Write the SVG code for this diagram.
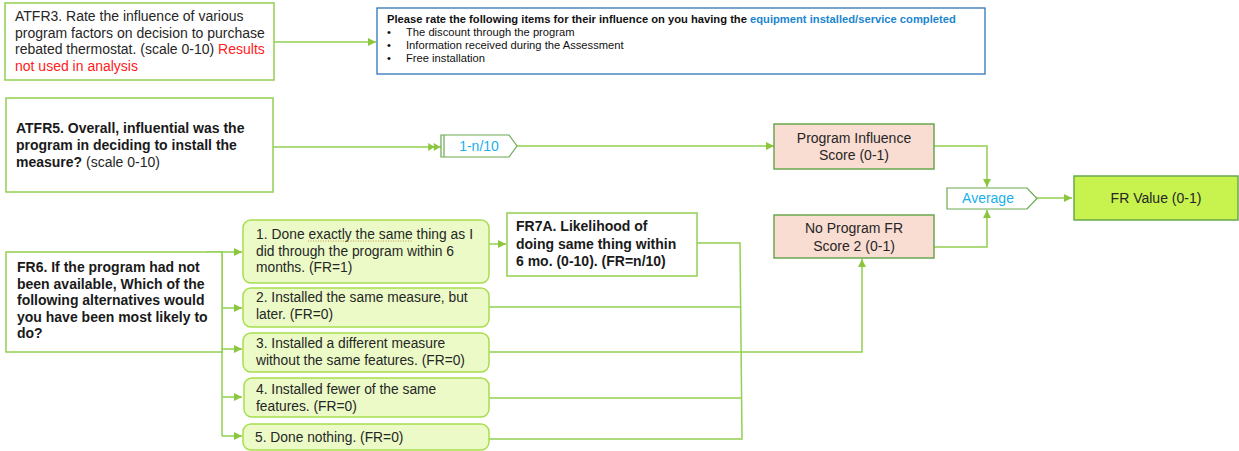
<svg xmlns="http://www.w3.org/2000/svg" width="1239" height="451" viewBox="0 0 1239 451">
<defs>
<style>
text{font-family:"Liberation Sans",Arial,sans-serif;font-size:14px;fill:#262626}
.b{font-weight:bold;fill:#1a1a1a}
.red{fill:#ff2020}
.cy{fill:#1ab0ea}
.sm{font-size:11.2px;fill:#111}
.o{font-size:13.8px}
.ln{fill:none;stroke:#92d050;stroke-width:1.5}
.gbox{fill:#fff;stroke:#92d050;stroke-width:1.5}
.opt{fill:#ebfac6;stroke:#a6de4e;stroke-width:1.5}
.pink{fill:#f9dcd2;stroke:#6aa84f;stroke-width:1.5}
.pent{fill:#fff;stroke:#6aa84f;stroke-width:1.2}
</style>
<marker id="ah" viewBox="0 0 10 10" refX="10" refY="5" markerWidth="9" markerHeight="8" markerUnits="userSpaceOnUse" orient="auto">
<path d="M0,0 L10,5 L0,10 z" fill="#8cc63f"/>
</marker>
<marker id="ah2" viewBox="0 0 16 10" refX="16" refY="5" markerWidth="14" markerHeight="8" markerUnits="userSpaceOnUse" orient="auto">
<path d="M0,0 L8,5 L0,10 z M7,0 L15,5 L7,10 z" fill="#8cc63f"/>
</marker>
</defs>

<g id="connectors">
<path class="ln" d="M274,42 H376" marker-end="url(#ah)"/>
<path class="ln" d="M273,147 H441" marker-end="url(#ah2)"/>
<path class="ln" d="M517,146 H774" marker-end="url(#ah)"/>
<path class="ln" d="M934,146 H987 V187" marker-end="url(#ah)"/>
<path class="ln" d="M934,247 H987 V210" marker-end="url(#ah)"/>
<path class="ln" d="M1037,198 H1072" marker-end="url(#ah)"/>
<path class="ln" d="M222,252 V436"/>
<path class="ln" d="M206,252 H242" marker-end="url(#ah)"/>
<path class="ln" d="M222,308 H242" marker-end="url(#ah)"/>
<path class="ln" d="M206,349 H242" marker-end="url(#ah)"/>
<path class="ln" d="M222,397 H242" marker-end="url(#ah)"/>
<path class="ln" d="M222,436 H242" marker-end="url(#ah)"/>
<path class="ln" d="M489,244 H506" marker-end="url(#ah)"/>
<path class="ln" d="M696,243 H740 L742,439 H489"/>
<path class="ln" d="M489,307 H741"/>
<path class="ln" d="M489,398 H742"/>
<path class="ln" d="M489,352 H862 V259" marker-end="url(#ah)"/>
</g>

<g id="atfr3">
<rect class="gbox" x="5" y="3" width="269" height="77"/>
<text x="15" y="21">ATFR3. Rate the influence of various</text>
<text x="15" y="37.5">program factors on decision to purchase</text>
<text x="15" y="54">rebated thermostat. (scale 0-10) <tspan class="red">Results</tspan></text>
<text x="15" y="70.5" class="red">not used in analysis</text>
</g>

<g id="question-box">
<rect x="377" y="8" width="608" height="66" fill="#fff" stroke="#2e75b6" stroke-width="1.3"/>
<text x="387" y="23" class="sm b">Please rate the following items for their influence on you having the <tspan fill="#1a86d0">equipment installed/service completed</tspan></text>
<text x="387" y="36" class="sm">•</text><text x="406" y="36" class="sm">The discount through the program</text>
<text x="387" y="49" class="sm">•</text><text x="406" y="49" class="sm">Information received during the Assessment</text>
<text x="387" y="62" class="sm">•</text><text x="406" y="62" class="sm">Free installation</text>
</g>

<g id="atfr5">
<rect class="gbox" x="6" y="98" width="267" height="94"/>
<text x="16" y="133" class="b">ATFR5. Overall, influential was the</text>
<text x="16" y="150" class="b">program in deciding to install the</text>
<text x="16" y="167"><tspan class="b">measure?</tspan> (scale 0-10)</text>
</g>

<g id="calc">
<path class="pent" d="M441,135 H509 L517,146 L509,157 H441 Z"/>
<path d="M444,135 V157" stroke="#6aa84f" stroke-width="1.2"/>
<text x="479" y="151" class="cy" text-anchor="middle">1-n/10</text>
</g>

<g id="program-influence">
<rect class="pink" x="774" y="124" width="160" height="45"/>
<text x="854" y="143" text-anchor="middle">Program Influence</text>
<text x="854" y="160" text-anchor="middle">Score (0-1)</text>
</g>

<g id="no-program">
<rect class="pink" x="774" y="215" width="160" height="43"/>
<text x="854" y="233" text-anchor="middle">No Program FR</text>
<text x="854" y="251" text-anchor="middle">Score 2 (0-1)</text>
</g>

<g id="average">
<path class="pent" d="M947,188 H1027 L1037,198.5 L1027,209 H947 Z"/>
<text x="988" y="203" class="cy" text-anchor="middle">Average</text>
</g>

<g id="fr-value">
<rect x="1074" y="176" width="164" height="44" fill="#c8f24e" stroke="#6aa84f" stroke-width="1.5"/>
<text x="1156" y="203" text-anchor="middle">FR Value (0-1)</text>
</g>

<g id="fr6">
<rect class="gbox" x="6" y="252" width="216" height="100"/>
<text x="17" y="272" class="b">FR6. If the program had not</text>
<text x="17" y="288.5" class="b">been available, Which of the</text>
<text x="17" y="305" class="b">following alternatives would</text>
<text x="17" y="321.5" class="b">you have been most likely to</text>
<text x="17" y="338" class="b">do?</text>
</g>

<g id="opt1">
<rect class="opt" x="243" y="220" width="246" height="63" rx="8"/>
<text x="256" y="239" class="o" textLength="217">1. Done exactly the same thing as I</text>
<text x="256" y="255.5" class="o">did through the program within 6</text>
<text x="256" y="272" class="o">months. (FR=1)</text>
<path d="M308,241 H412" stroke="#c49a4a" stroke-width="1.2" stroke-dasharray="1,1.5"/>
</g>

<g id="opt2">
<rect class="opt" x="243" y="288" width="246" height="39" rx="8"/>
<text x="256" y="302" class="o">2. Installed the same measure, but</text>
<text x="256" y="319" class="o">later. (FR=0)</text>
</g>

<g id="opt3">
<rect class="opt" x="243" y="333" width="246" height="39" rx="8"/>
<text x="256" y="348" class="o">3. Installed a different measure</text>
<text x="256" y="365" class="o">without the same features. (FR=0)</text>
</g>

<g id="opt4">
<rect class="opt" x="244" y="378" width="245" height="39" rx="8"/>
<text x="256" y="394" class="o">4. Installed fewer of the same</text>
<text x="256" y="411" class="o">features. (FR=0)</text>
</g>

<g id="opt5">
<rect class="opt" x="243" y="424" width="246" height="26" rx="8"/>
<text x="255" y="442" class="o">5. Done nothing. (FR=0)</text>
</g>

<g id="fr7a">
<rect class="gbox" x="507" y="213" width="190" height="63"/>
<text x="516" y="231" class="b">FR7A. Likelihood of</text>
<text x="516" y="248.5" class="b">doing same thing within</text>
<text x="516" y="266" class="b">6 mo. (0-10). (FR=n/10)</text>
</g>
</svg>
